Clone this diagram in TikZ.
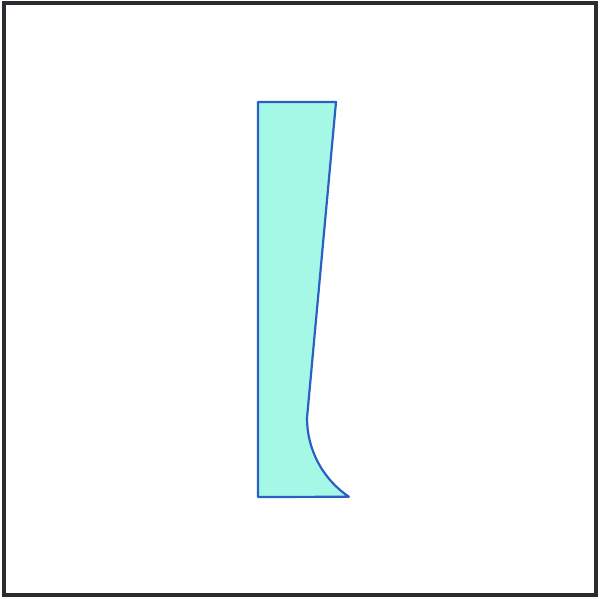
\documentclass[tikz,border=0pt]{standalone}
\usepackage{xcolor}
\definecolor{framegray}{HTML}{2B2C30}
\definecolor{edgeblue}{HTML}{2B5FC4}
\definecolor{aqua}{HTML}{A6F8E6}
\tikzset{frame/.style={draw=framegray, line width=3.5pt}, profile/.style={draw=edgeblue, fill=aqua, line width=2.2pt, line join=round}}
\begin{document}
\begin{tikzpicture}[x=1pt,y=1pt]
\useasboundingbox (0,0) rectangle (600,598);
\draw[frame] (4,3) rectangle (596,595);
\draw[profile] (258,101) -- (258,496) -- (336,496) -- (307,180) arc[start angle=180, end angle=236, radius=95] -- cycle;
\end{tikzpicture}
\end{document}
